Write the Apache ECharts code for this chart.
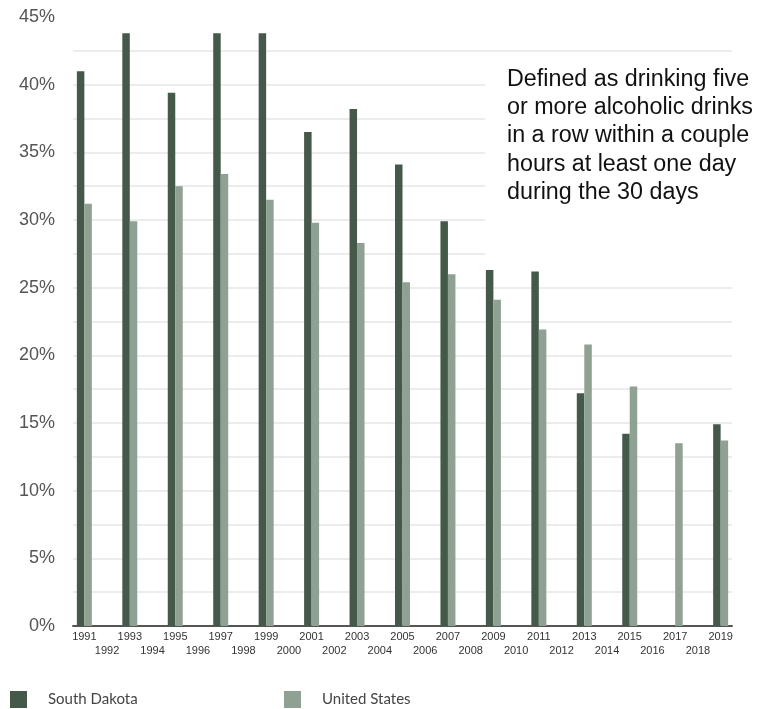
<!DOCTYPE html>
<html>
<head>
<meta charset="utf-8">
<script src="https://cdn.jsdelivr.net/npm/echarts@6/dist/echarts.min.js"></script>
<style>
  html, body { margin: 0; padding: 0; background: #fff; }
  #main { width: 775px; height: 709px; }
</style>
</head>
<body>
<div id="main"></div>
<script>
var years = ['1991', '1992', '1993', '1994', '1995', '1996', '1997', '1998', '1999', '2000',
    '2001', '2002', '2003', '2004', '2005', '2006', '2007', '2008', '2009', '2010',
    '2011', '2012', '2013', '2014', '2015', '2016', '2017', '2018', '2019'];

// surveys only in odd years; even years are 0
var southDakota = [41.0, 0, 43.8, 0, 39.4, 0, 43.8, 0, 43.8, 0,
    36.5, 0, 38.2, 0, 34.1, 0, 29.9, 0, 26.3, 0,
    26.2, 0, 17.2, 0, 14.2, 0, '-', 0, 14.9];
var unitedStates = [31.2, 0, 29.9, 0, 32.5, 0, 33.4, 0, 31.5, 0,
    29.8, 0, 28.3, 0, 25.4, 0, 26.0, 0, 24.1, 0,
    21.9, 0, 20.8, 0, 17.7, 0, 13.5, 0, 13.7];

var note = 'Defined as drinking five\nor more alcoholic drinks\nin a row within a couple\nhours at least one day\nduring the 30 days';

var dom = document.getElementById('main');
var myChart = echarts.init(dom);

var option = {
    backgroundColor: '#fff',
    animation: false,
    grid: {
        left: 73,
        right: 43,
        top: 17,
        bottom: 83
    },
    legend: [{
        data: ['South Dakota'],
        left: 10,
        top: 691,
        padding: 0,
        icon: 'rect',
        itemWidth: 17,
        itemHeight: 17,
        textStyle: { color: '#444', fontSize: 15, fontFamily: 'Lato', padding: [0, 0, 0, 16] }
    }, {
        data: ['United States'],
        left: 284,
        top: 691,
        padding: 0,
        icon: 'rect',
        itemWidth: 17,
        itemHeight: 17,
        textStyle: { color: '#444', fontSize: 15, fontFamily: 'Lato', padding: [0, 0, 0, 16] }
    }],
    xAxis: {
        type: 'category',
        data: years,
        axisTick: { show: false },
        axisLine: { lineStyle: { color: '#555', width: 2 } },
        axisLabel: {
            interval: 0,
            margin: 4,
            fontSize: 11,
            lineHeight: 14,
            color: '#333',
            fontFamily: 'Liberation Sans',
            formatter: function (v, i) {
                return i % 2 === 1 ? '\n' + v : v;
            }
        }
    },
    yAxis: {
        type: 'value',
        min: 0,
        max: 45,
        interval: 2.5,
        axisLine: { show: false },
        axisTick: { show: false },
        splitLine: { showMaxLine: false, lineStyle: { color: '#e6e6e6', width: 1.5 } },
        axisLabel: {
            margin: 18,
            fontSize: 18,
            color: '#555',
            fontFamily: 'Liberation Sans',
            formatter: function (v) {
                return v % 5 === 0 ? v + '%' : '';
            }
        }
    },
    series: [{
        name: 'South Dakota',
        type: 'bar',
        data: southDakota,
        barGap: 0,
        barCategoryGap: '34%',
        itemStyle: { color: '#45594b' }
    }, {
        name: 'United States',
        type: 'bar',
        data: unitedStates,
        barGap: 0,
        barCategoryGap: '34%',
        itemStyle: { color: '#8ea192' }
    }],
    graphic: [{
        type: 'rect',
        left: 485,
        top: 55,
        z: 100,
        shape: { width: 290, height: 205 },
        style: { fill: '#fff' }
    }, {
        type: 'text',
        left: 507,
        top: 65,
        z: 101,
        style: {
            text: note,
            fontSize: 23.3,
            lineHeight: 28.4,
            fontFamily: 'Liberation Sans',
            fill: '#111'
        }
    }]
};

if (option && typeof option === "object") {
    myChart.setOption(option, true);
}
</script>
</body>
</html>
